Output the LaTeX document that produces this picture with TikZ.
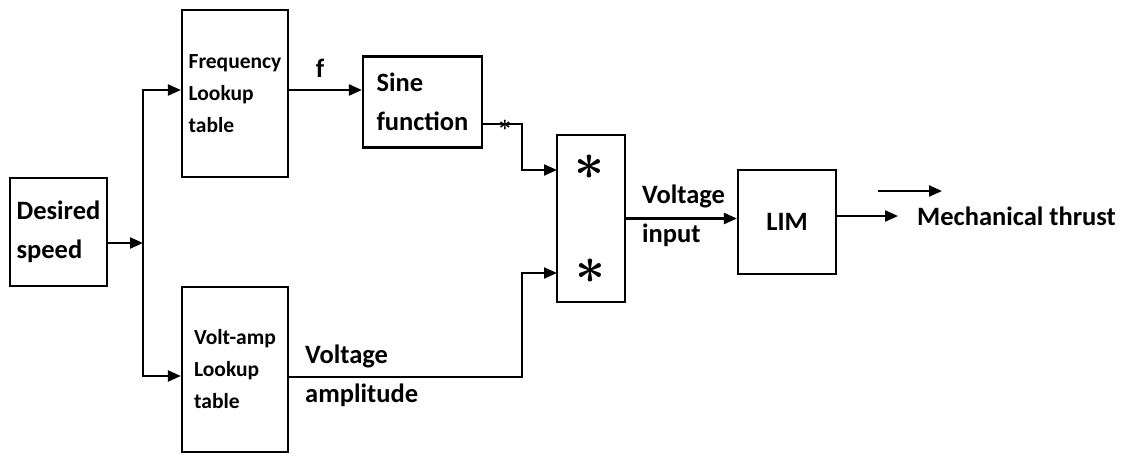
\documentclass[tikz,border=0pt]{standalone}
\usepackage{fontspec}
\setmainfont{Carlito}
\usetikzlibrary{arrows.meta,positioning,calc}
\newcommand\lblfont{\fontsize{26.5}{39}\selectfont\bfseries}
\newcommand\tblfont{\fontsize{21.5}{32}\selectfont\bfseries}
\tikzset{
  blk/.style={draw, line width=2.2pt, align=left, font=\lblfont, inner sep=0pt},
  arr/.style={-{Triangle[length=13pt,width=11pt]}, line width=2.2pt},
  lbl/.style={font=\lblfont, align=left, inner sep=0pt},
  star/.style={inner sep=0pt}
}

\begin{document}
\begin{tikzpicture}[x=1pt,y=-1pt]
    \useasboundingbox (0,0) rectangle (1129,455);
    % blocks
    \node[blk, minimum width=97pt, minimum height=108pt] (speed) at (58.5,232) {Desired\\speed};
    \node[blk, minimum width=106pt, minimum height=167pt, font=\tblfont] (freq) at (235,93.5) {Frequency\\Lookup\\table};
    \node[blk, minimum width=106pt, minimum height=165pt, font=\tblfont] (volt) at (235,369.5) {Volt-amp\\Lookup\\table};
    \node[blk, minimum width=119pt, minimum height=91pt] (sine) at (422.5,102) {Sine\\function};
    \node[blk, minimum width=68pt, minimum height=167pt] (mult) at (591,218.5) {};
    \node[star] (s1) at (589,167) {\scalebox{5.2}{\boldmath$\ast$}};
    \node[star] (s2) at (590,271.5) {\scalebox{5.2}{\boldmath$\ast$}};
    \node[blk, minimum width=98pt, minimum height=104pt] (lim) at (787,222) {LIM};
    % labels
    \node[lbl] (flbl) at (320,68) {f};
    \node[star] (mark) at (505,125) {\scalebox{2.2}{\boldmath$\ast$}};
    \node[lbl, anchor=west] (amp) at (305,376) {Voltage\\amplitude};
    \node[lbl, anchor=west] (vin) at (642,216) {Voltage\\input};
    \node[lbl, anchor=west] (thrust) at (917,216) {Mechanical thrust};
    \coordinate (split) at (143,243);
    \coordinate (in1) at (557,170);
    \coordinate (in2) at (557,273);
    \coordinate (dir) at (878,191);
    % connectors
    \draw[arr] (speed.east |- split) -- (split);
    \draw[arr] (split) |- ([yshift=3.5pt]freq.west);
    \draw[arr] (split) |- ([yshift=-6.5pt]volt.west);
    \draw[arr] ([yshift=3.5pt]freq.east) -- (sine.west |- 0,90);
    \draw[arr] ([yshift=-22pt]sine.east) -- ++(39,0) |- (in1);
    \draw[arr] ([yshift=-7.5pt]volt.east) -- ++(233,0) |- (in2);
    \draw[arr] (mult.east) -- (lim.west |- mult.east);
    \draw[arr] (lim.east |- thrust) -- ([xshift=-19pt]thrust.west);
    \draw[arr] (dir) -- ++(64,0);
\end{tikzpicture}
\end{document}
